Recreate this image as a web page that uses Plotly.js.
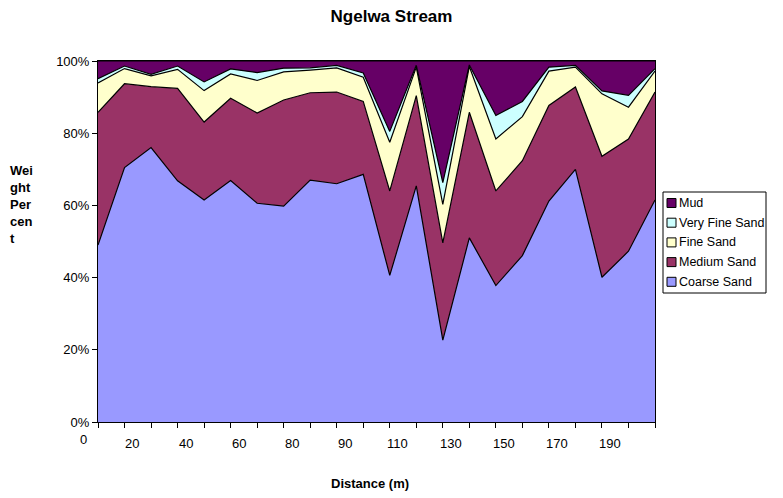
<!DOCTYPE html>
<html>
<head>
<meta charset="utf-8">
<script src="https://cdn.plot.ly/plotly-3.0.1.min.js"></script>
<style>
  html, body { margin: 0; padding: 0; background: #ffffff; }
  #chart { width: 783px; height: 498px; }
</style>
</head>
<body>
<div id="chart"></div>
<script>
// Sampling stations along the stream (m)
const distances = ['0', '10', '20', '30', '40', '50', '60', '70', '80', '85', '90',
                   '100', '110', '120', '130', '140', '150', '160', '170', '180', '190', '200'];

// Grain-size fractions, weight percent at each station
const coarseSand   = [49.0, 70.5, 76.0, 66.8, 61.5, 66.9, 60.6, 59.8, 67.0, 66.0, 68.6,
                      40.6, 65.4, 22.7, 51.0, 37.8, 46.1, 61.2, 70.0, 40.1, 47.3, 61.5];
const mediumSand   = [36.8, 23.2, 16.9, 25.6, 21.6, 22.8, 25.0, 29.4, 24.2, 25.4, 20.2,
                      23.4, 25.0, 26.9, 34.8, 26.2, 26.3, 26.5, 22.8, 33.5, 31.1, 29.9];
const fineSand     = [8.1, 4.2, 3.0, 5.3, 8.7, 6.7, 9.0, 7.8, 6.3, 6.7, 6.7,
                      13.5, 7.9, 10.7, 12.7, 14.4, 12.2, 9.5, 5.5, 17.3, 8.8, 5.8];
const veryFineSand = [1.2, 0.7, 0.4, 0.9, 2.4, 1.4, 2.2, 1.0, 0.6, 0.7, 1.2,
                      3.0, 0.5, 6.0, 0.4, 6.5, 4.2, 1.1, 0.5, 0.8, 3.3, 0.7];
const mud          = [4.9, 1.4, 3.7, 1.4, 5.8, 2.2, 3.2, 2.0, 1.9, 1.2, 3.3,
                      19.5, 1.2, 33.7, 1.1, 15.1, 11.2, 1.7, 1.2, 8.3, 9.5, 2.1];

const seriesNames  = ['Coarse Sand', 'Medium Sand', 'Fine Sand', 'Very Fine Sand', 'Mud'];
const seriesValues = [coarseSand, mediumSand, fineSand, veryFineSand, mud];
const seriesColors = ['#9999FF', '#993366', '#FFFFCC', '#CCFFFF', '#660066'];

const yTickValues = [0, 20, 40, 60, 80, 100];
const yTickLabels = ['0%', '20%', '40%', '60%', '80%', '100%'];

// Every other station is labelled on the distance axis
const labelEvery = 2;

const FONT = 'Liberation Sans, Arial, sans-serif';
const W = 783, H = 498;
const M = { l: 98, r: 128, t: 61, b: 76 };
const plotW = W - M.l - M.r;
const plotH = H - M.t - M.b;
const px = x => (x - M.l) / plotW;          // page pixel -> paper x
const py = y => (H - M.b - y) / plotH;      // page pixel -> paper y

const idx = distances.map((d, i) => i);
const nCat = distances.length;

const traces = seriesNames.map((name, s) => ({
  type: 'scatter',
  mode: 'lines',
  name: name,
  x: idx,
  y: seriesValues[s],
  stackgroup: 'grain',
  fillcolor: seriesColors[s],
  line: { color: '#000000', width: 1.2, shape: 'linear' },
  hoverinfo: 'skip',
  showlegend: false
}));

const annotations = [];
const shapes = [];

// Distance labels, offset between the station ticks
distances.forEach((d, i) => {
  if (i % labelEvery !== 0) return;
  annotations.push({
    xref: 'paper', yref: 'paper',
    x: (i === 0 ? -0.56 : i - 0.7) / (nCat - 1),
    y: i === 0 ? py(439) : py(443),
    xanchor: 'center', yanchor: 'middle',
    text: d, showarrow: false,
    font: { family: FONT, size: 13, color: '#000' }
  });
});

// Axis titles
annotations.push({
  xref: 'paper', yref: 'paper', x: px(370), y: py(484),
  xanchor: 'center', yanchor: 'middle', showarrow: false,
  text: '<b>Distance (m)</b>',
  font: { family: FONT, size: 13, color: '#000' }
});
annotations.push({
  xref: 'paper', yref: 'paper', x: px(8), y: py(204),
  xanchor: 'left', yanchor: 'middle', align: 'left', showarrow: false,
  text: '<b>Wei<br>ght<br>Per<br>cen<br>t</b>',
  font: { family: FONT, size: 13, color: '#000' }
});

// Legend box, listed from the top of the stack down
shapes.push({
  type: 'rect', xref: 'paper', yref: 'paper',
  x0: px(663), x1: px(766), y0: py(192), y1: py(293),
  line: { color: '#000', width: 1 }, fillcolor: '#ffffff'
});
const legendOrder = seriesNames.map((n, i) => i).reverse();
legendOrder.forEach((s, row) => {
  const cy = 203 + row * 19.7;
  shapes.push({
    type: 'rect', xref: 'paper', yref: 'paper',
    x0: px(667), x1: px(676), y0: py(cy - 4.5), y1: py(cy + 4.5),
    line: { color: '#000', width: 1 }, fillcolor: seriesColors[s]
  });
  annotations.push({
    xref: 'paper', yref: 'paper', x: px(677), y: py(cy),
    xanchor: 'left', yanchor: 'middle', showarrow: false,
    text: seriesNames[s],
    font: { family: FONT, size: 12.5, color: '#000' }
  });
});

const layout = {
  width: W, height: H,
  margin: M,
  paper_bgcolor: '#ffffff',
  plot_bgcolor: '#ffffff',
  font: { family: FONT, size: 13, color: '#000' },
  title: {
    text: '<b>Ngelwa Stream</b>',
    font: { family: FONT, size: 17, color: '#000' },
    x: 0.5, xref: 'container', xanchor: 'center',
    y: 1 - 16 / H, yref: 'container', yanchor: 'middle'
  },
  xaxis: {
    range: [0, nCat - 1],
    tickvals: idx,
    showticklabels: false,
    ticks: 'outside', ticklen: 5, tickcolor: '#000', tickwidth: 1,
    showgrid: false, zeroline: false,
    showline: true, linecolor: '#000', linewidth: 1, mirror: true
  },
  yaxis: {
    range: [0, 100],
    tickvals: yTickValues,
    ticktext: yTickLabels,
    ticks: 'outside', ticklen: 5, tickcolor: '#000', tickwidth: 1,
    tickfont: { family: FONT, size: 13, color: '#000' },
    showgrid: false, zeroline: false,
    showline: true, linecolor: '#000', linewidth: 1, mirror: true
  },
  showlegend: false,
  annotations: annotations,
  shapes: shapes
};

Plotly.newPlot('chart', traces, layout, { displayModeBar: false, staticPlot: true });
</script>
</body>
</html>
